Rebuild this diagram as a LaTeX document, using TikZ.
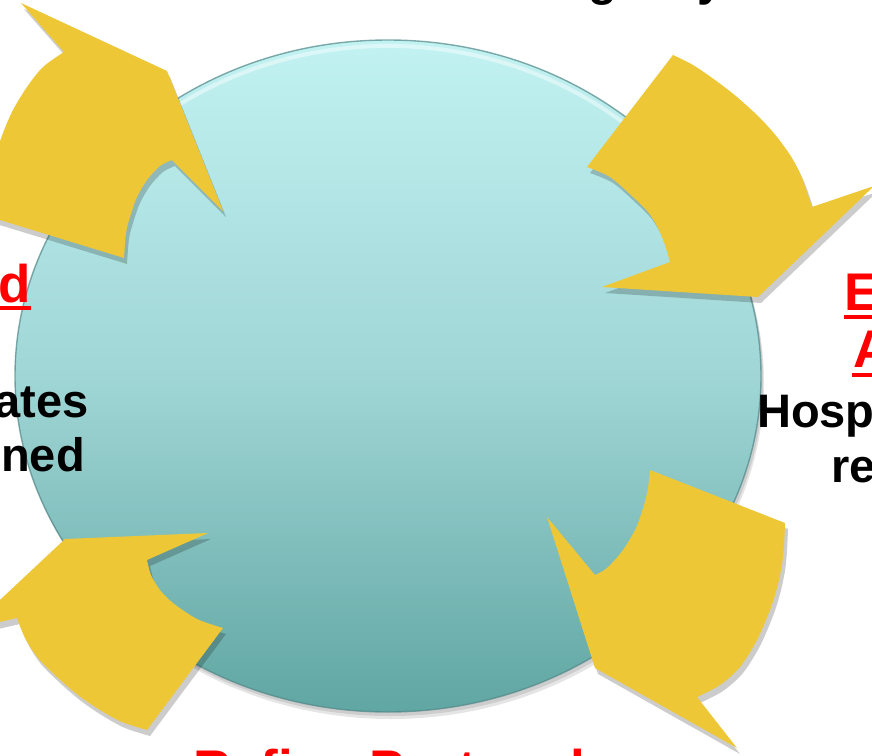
\documentclass[tikz,border=0pt]{standalone}
\usepackage{fontspec}
\setmainfont{Liberation Sans}
\definecolor{arrowyellow}{RGB}{238,199,54}
\definecolor{ctop}{RGB}{194,242,242}
\definecolor{cmid}{RGB}{160,214,214}
\definecolor{cbot}{RGB}{96,166,162}
\definecolor{cedge}{RGB}{80,135,135}
\definecolor{pptred}{RGB}{255,0,0}
\tikzset{
  blacktext/.style={font=\bfseries\fontsize{47}{56}\selectfont, inner sep=0pt, text=black},
  redtext/.style={font=\bfseries\fontsize{53}{64}\selectfont, inner sep=0pt, text=pptred},
  ulstyle/.style={draw=pptred, line width=3.8pt},
  arrowfill/.style={fill=arrowyellow},
  arrowshadow/.style={fill=black, fill opacity=0.2},
  pics/tlarrow/.style={code={\fill[#1] (223,211) -- (167,71) -- (21,3) -- (64,52)
      -- plot[smooth] coordinates {(64,52) (43,67) (27,87) (13,110) (3,133) (-10,170)}
      -- (-20,215) -- (0,220) -- (124,258)
      -- plot[smooth] coordinates {(124,258) (126,233) (130,217) (137,197) (147,180) (160,166) (172,160)}
      -- cycle;}},
  pics/trarrow/.style={code={\fill[#1] (673,55)
      -- plot[smooth] coordinates {(673,55) (693,65) (715,80) (737,97) (760,118) (777,137) (792,158) (802,178) (812,207)}
      -- (874,186) -- (758,297) -- (602,287) -- (670,262)
      -- plot[smooth] coordinates {(670,262) (665,245) (658,228) (648,212) (633,197) (610,177) (587,167)}
      -- cycle;}},
  pics/brarrow/.style={code={\fill[#1] (650,470) -- (785,523)
      -- plot[smooth] coordinates {(785,523) (784,545) (782,565) (777,588) (770,610) (757,640) (740,667) (720,685) (697,697)}
      -- (737,748) -- (595,668) -- (547,517) -- (595,575)
      -- plot[smooth] coordinates {(595,575) (607,568) (623,550) (636,528) (644,505) (648,488) (650,470)}
      -- cycle;}},
  pics/blarrow/.style={code={\fill[#1] (65,539) -- (208,533) -- (147,560)
      -- plot[smooth] coordinates {(147,560) (151,575) (160,590) (173,603) (197,619) (223,628)}
      -- (147,730)
      -- plot[smooth] coordinates {(147,730) (122,722) (100,710) (78,695) (57,677) (38,658) (25,638) (17,618)}
      -- (-31,629) -- cycle;}}
}
\begin{document}
\begin{tikzpicture}[x=1pt,y=-1pt]
\useasboundingbox (0,0) rectangle (872,755);
\clip (0,0) rectangle (872,755);
\fill[white] (0,0) rectangle (872,755);
\coordinate (c) at (388,376);
% circle shadow
\fill[black, opacity=0.10] ([shift={(3,7)}]c) ellipse[x radius=373, y radius=336];
\fill[black, opacity=0.10] ([shift={(2,4)}]c) ellipse[x radius=373, y radius=336];
% circle
\shade[top color=ctop, bottom color=cbot, middle color=cmid] (c) ellipse[x radius=373, y radius=336];
\draw[cedge, opacity=0.7, line width=1.4pt] (c) ellipse[x radius=373, y radius=336];
\draw[white, opacity=0.45, line width=4pt] (c) ++(205:367 and 330) arc[start angle=205, end angle=335, x radius=367, y radius=330];
% arrows
\pic at (3,6) {tlarrow=arrowshadow};
\pic at (3,6) {trarrow=arrowshadow};
\pic at (3,6) {brarrow=arrowshadow};
\pic at (3,6) {blarrow=arrowshadow};
\pic at (0,0) {tlarrow=arrowfill};
\pic at (0,0) {trarrow=arrowfill};
\pic at (0,0) {brarrow=arrowfill};
\pic at (0,0) {blarrow=arrowfill};
% texts
\node[blacktext, anchor=base west] (tt) at (588,-5) {gency};
\node[redtext, anchor=base east] (tld) at (31,302) {d};
\draw[ulstyle] ([yshift=-6pt]tld.base west) -- ([yshift=-6pt]tld.base east);
\node[blacktext, anchor=base east] (lt1) at (89,417) {ates};
\node[blacktext, anchor=base east] (lt2) at (85,471) {ned};
\node[redtext, anchor=base west] (re1) at (844,310) {E};
\draw[ulstyle] ([yshift=-7pt]re1.base west) -- ([yshift=-7pt,xshift=20pt]re1.base east);
\node[redtext, anchor=base west] (re2) at (853,367) {A};
\draw[ulstyle] ([yshift=-8pt,xshift=-1pt]re2.base west) -- ([yshift=-8pt,xshift=20pt]re2.base east);
\node[blacktext, anchor=base west] (rt1) at (757,427) {Hosp};
\node[blacktext, anchor=base west] (rt2) at (831,482) {re};
\node[redtext, anchor=base west] (bt) at (193,787) {Refine Protocol};
\end{tikzpicture}
\end{document}
